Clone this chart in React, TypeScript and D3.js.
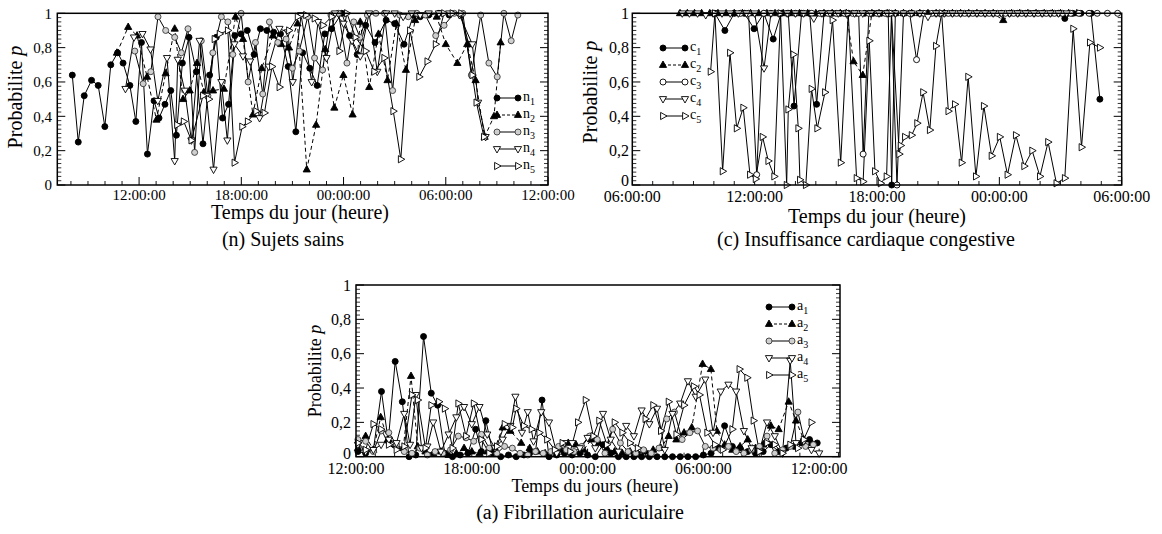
import React from 'react';
import * as d3 from 'd3';

type Pt = [number, number];

// ---------- Panel (n): Sujets sains  [hour, probability] ----------
const n1: Pt[] = [[8.08,.64],[8.43,.25],[8.78,.52],[9.21,.61],[9.6,.58],[9.99,.34],[10.34,.70],[10.74,.77],[11.06,.71],[11.46,.58],[11.81,.37],[12.14,.83],[12.49,.18],[12.88,.49],[13.17,.39],[13.52,.47],[13.86,.55],[14.19,.29],[14.54,.71],[14.93,.86],[15.36,.66],[15.75,.24],[16.14,.64],[16.53,.86],[16.9,.39],[17.25,.47],[17.62,.87],[17.98,.88],[18.35,.90],[18.75,.76],[19.12,.91],[19.5,.90],[19.9,.89],[20.3,.88],[20.75,.69],[21.2,.31],[21.6,.77],[22.02,.68],[22.45,.58],[22.9,.88],[23.3,.91],[23.9,1.0],[24.35,.87],[24.8,.76],[25.3,.93],[25.85,.83],[26.5,.96],[27.0,.94],[27.55,.82],[28.1,.99],[28.5,.98],[29.0,.99],[29.6,1.0],[30.2,.99],[30.9,.99],[31.35,.82]];
const n2: Pt[] = [[10.7,.77],[11.36,.92],[11.88,.87],[12.47,.63],[13.02,.38],[13.56,.65],[14.09,.91],[14.58,.50],[14.97,.55],[15.4,.71],[15.8,.54],[16.34,.55],[16.98,.56],[17.66,.98],[18.1,.85],[18.68,.41],[19.2,.68],[19.85,.87],[20.34,.82],[20.8,.80],[21.3,.94],[21.84,.09],[22.39,.35],[22.93,.79],[23.46,.45],[23.99,.64],[24.53,.41],[24.98,.95],[25.51,.57],[26.05,.88],[26.58,.61],[27.1,.94],[27.66,.67],[28.2,.96],[28.8,.99],[29.47,.98],[30.0,.82],[30.68,.71],[31.26,.82],[31.75,.61],[32.28,.28],[32.83,.40],[33.22,.83]];
const n3: Pt[] = [[11.75,.78],[12.24,.59],[12.69,.66],[13.11,.98],[13.56,.90],[14.09,.86],[14.48,.77],[14.87,.91],[15.26,.19],[15.65,.84],[16.04,.52],[16.33,.77],[16.83,.98],[17.21,.95],[17.5,.76],[17.99,1.0],[18.4,.60],[18.83,.83],[19.26,.53],[19.65,.95],[20.14,.83],[20.63,.85],[21.0,.68],[21.4,.78],[21.9,.98],[22.3,.74],[22.77,.67],[23.26,.99],[23.7,1.0],[24.2,.71],[24.6,.95],[24.96,.86],[25.4,.99],[25.9,1.0],[26.4,1.0],[26.88,.55],[27.3,.99],[27.8,.98],[28.3,1.0],[28.8,.99],[29.41,.87],[29.9,.93],[30.5,1.0],[31.0,1.0],[31.5,.64],[32.05,.99],[32.53,.71],[33.02,.63],[33.41,1.0],[33.84,.84],[34.23,.99]];
const n4: Pt[] = [[11.2,.56],[11.7,.86],[12.2,.88],[12.67,.79],[13.1,.49],[13.64,.74],[14.09,.14],[14.27,.73],[14.68,.55],[15.07,.26],[15.55,.84],[15.95,.52],[16.37,.09],[16.83,.60],[17.18,.26],[17.6,.82],[18.1,.75],[18.52,.72],[19.07,.39],[19.6,.69],[20.24,.91],[20.73,.89],[21.02,.60],[21.51,.99],[22.13,.60],[22.5,.95],[23.0,.74],[23.5,1.0],[24.0,.94],[24.5,.84],[24.98,.75],[25.5,1.0],[25.98,.66],[26.5,1.0],[27.0,1.0],[27.5,.98],[28.0,1.0],[28.5,.99],[29.0,1.0],[29.6,1.0],[30.2,1.0],[30.8,.99],[31.56,.82],[31.9,.48],[32.34,.28]];
const n5: Pt[] = [[14.23,.35],[14.62,.37],[15.07,.26],[15.75,.52],[16.1,.50],[16.43,.85],[16.73,.88],[17.21,.90],[17.6,.13],[18.05,.34],[18.38,.37],[18.87,.43],[19.36,.42],[19.8,.69],[20.24,.57],[20.8,.90],[21.31,.98],[21.8,.99],[22.3,.97],[22.8,.93],[23.3,.98],[23.75,.78],[24.2,1.0],[24.7,.86],[25.3,.78],[25.8,.66],[26.39,.74],[26.92,.43],[27.36,.15],[27.9,.90],[28.44,.63],[28.92,.72],[29.41,.82],[29.9,1.0],[30.4,1.0],[30.9,1.0],[31.56,.64],[31.8,.48],[32.24,.28]];

// ---------- Panel (c): Insuffisance cardiaque congestive ----------
const c1: Pt[] = [[10.05,1],[10.54,.90],[11.0,1],[11.5,1],[11.97,.91],[12.45,1],[12.91,.85],[13.3,1],[13.65,1],[13.93,.46],[14.3,1],[14.7,1],[15.04,.47],[15.4,1],[15.8,1],[16.2,1],[16.6,1],[17.0,1],[17.4,1],[17.8,1],[18.2,1],[18.55,1],[18.72,0],[18.9,1],[19.3,1],[19.7,1],[20.1,1],[20.5,1],[20.9,1],[21.3,1],[21.7,1],[22.1,1],[22.5,1],[22.9,1],[23.3,1],[23.7,1],[24.1,1],[24.5,1],[24.9,1],[25.3,1],[25.7,1],[26.1,1],[26.5,1],[26.9,1],[27.21,.97],[27.6,1],[28.0,1],[28.5,1],[28.93,.50]];
const c2: Pt[] = [[8.34,1],[8.7,1],[9.05,1],[9.4,1],[9.8,1],[10.2,1],[10.6,1],[11.0,1],[11.4,1],[11.8,1],[12.2,1],[12.6,1],[13.0,1],[13.4,1],[13.8,1],[14.2,1],[14.6,1],[15.0,1],[15.4,1],[15.8,1],[16.2,1],[16.5,1],[16.85,.72],[17.3,.64],[17.75,1],[18.1,1],[18.5,1],[18.9,1],[19.3,1],[19.7,1],[20.1,1],[20.5,1],[20.9,1],[21.3,1],[21.7,1],[22.1,1],[22.5,1],[22.9,1],[23.3,1],[23.7,1],[24.19,.96],[24.6,1],[25.0,1],[25.4,1],[25.8,1],[26.2,1],[26.6,1],[27.0,1],[27.4,1],[27.8,1]];
const c3: Pt[] = [[11.3,1],[11.7,1],[12.1,.06],[12.45,1],[12.8,1],[13.2,1],[13.6,1],[14.0,1],[14.4,1],[14.8,1],[15.2,1],[15.6,1],[16.0,1],[16.4,1],[16.8,1],[17.1,1],[17.32,.18],[17.6,1],[18.0,1],[18.4,1],[18.7,1],[18.98,0],[19.3,1],[19.6,1],[19.94,.73],[20.3,1],[20.7,1],[21.1,1],[21.5,1],[21.9,1],[22.3,1],[22.7,1],[23.1,1],[23.5,1],[23.9,1],[24.3,1],[24.7,1],[25.1,1],[25.5,1],[25.9,1],[26.3,1],[26.7,1],[27.1,1],[27.5,1],[27.9,1],[28.4,1],[28.8,1],[29.3,1],[29.8,1]];
const c4: Pt[] = [[8.45,1],[8.8,1],[9.2,1],[9.6,.99],[10.0,1],[10.4,1],[10.8,1],[11.2,1],[11.6,1],[12.0,1],[12.46,.68],[12.8,1],[13.2,1],[13.6,1],[14.0,1],[14.4,1],[14.9,.97],[15.3,1],[15.7,1],[16.1,1],[16.5,1],[16.9,1],[17.3,1],[17.7,1],[18.1,1],[18.5,1],[18.9,1],[19.3,1],[19.7,1],[20.1,1],[20.5,.98],[20.9,1],[21.3,1],[21.7,1],[22.1,1],[22.5,1],[22.9,1],[23.3,1],[23.7,1],[24.1,1],[24.5,1],[24.9,1],[25.3,1],[25.7,1],[26.1,1],[26.5,1],[26.9,1],[27.3,1]];
const c5: Pt[] = [[9.84,.66],[10.05,1.0],[10.43,.08],[10.79,.77],[11.12,.33],[11.44,.45],[11.77,.06],[12.05,.035],[12.39,.28],[12.67,.14],[12.96,.05],[13.27,1.0],[13.57,0],[13.65,.44],[13.9,.76],[14.14,.33],[14.22,.03],[14.51,0],[14.79,.56],[15.07,.33],[15.45,.54],[15.82,.96],[16.22,.13],[16.59,1.0],[17.0,.04],[17.32,.02],[17.62,.84],[17.9,.08],[18.18,.01],[18.47,.05],[18.71,1.0],[19.09,.18],[19.16,.23],[19.37,.28],[19.7,.29],[19.97,.36],[20.26,.54],[20.59,.32],[20.89,.81],[21.17,1.0],[21.5,.43],[21.82,.47],[22.15,.13],[22.47,.63],[22.85,.05],[23.24,.46],[23.62,.17],[24.02,.28],[24.4,.06],[24.81,.29],[25.22,.11],[25.61,.20],[25.99,.05],[26.39,.25],[26.8,.01],[27.21,.04],[27.62,.91],[28.03,.22],[28.44,.83],[28.93,.80]];

// ---------- Panel (a): Fibrillation auriculaire ----------
const a1: Pt[] = [[12.1,.03],[12.5,.02],[12.9,.04],[13.32,.38],[13.67,.09],[14.03,.555],[14.4,.32],[14.75,0],[15.1,.01],[15.5,.70],[15.9,.37],[16.23,.30],[16.6,.02],[17.0,0],[17.4,.01],[17.8,.02],[18.2,.16],[18.5,.03],[18.73,.21],[19.1,.02],[19.5,0],[19.9,.01],[20.3,0],[20.7,.01],[21.0,.02],[21.3,.03],[21.64,.33],[22.0,0],[22.4,.01],[22.8,.02],[23.2,.01],[23.6,.02],[24.0,.01],[24.4,0],[24.8,.07],[25.2,.02],[25.6,0],[26.0,0],[26.4,0],[26.8,0],[27.2,0],[27.6,0],[28.0,0],[28.4,0],[28.8,0],[29.2,0],[29.6,0],[30.0,.01],[30.4,.02],[30.8,.05],[31.1,.18],[31.5,.06],[31.9,.05],[32.3,.03],[32.7,.02],[33.1,.03],[33.5,.07],[33.9,.03],[34.3,.05],[34.7,.06],[35.1,.08],[35.5,.10],[35.9,.08]];
const a2: Pt[] = [[12.1,.05],[12.5,.12],[12.9,.04],[13.28,.23],[13.65,.10],[14.05,.07],[14.45,.05],[14.85,.47],[15.2,.06],[15.6,.03],[16.0,.02],[16.4,.03],[16.8,.01],[17.2,.02],[17.6,.05],[18.0,.03],[18.4,.02],[18.8,.03],[19.2,.05],[19.6,.17],[20.0,.15],[20.56,.08],[21.0,.05],[21.4,.03],[21.8,.02],[22.2,.03],[22.6,.04],[23.0,.08],[23.4,.07],[23.8,.04],[24.2,.10],[24.6,.08],[25.0,.05],[25.4,.03],[25.8,.02],[26.2,.03],[26.6,.02],[27.0,.03],[27.4,.04],[27.8,.05],[28.2,.12],[28.6,.10],[29.0,.14],[29.4,.17],[29.96,.54],[30.39,.51],[30.7,.15],[31.1,.07],[31.5,.04],[31.9,.06],[32.3,.10],[32.7,.05],[33.1,.07],[33.5,.18],[33.9,.16],[34.42,.32],[34.8,.21],[35.2,.10],[35.6,.08]];
const a3: Pt[] = [[12.1,.10],[12.5,.09],[12.9,.03],[13.3,.15],[13.7,.14],[14.1,.07],[14.5,.03],[14.9,.02],[15.3,.05],[15.7,.01],[16.1,.03],[16.5,.02],[16.9,.04],[17.3,.12],[17.7,.11],[18.1,.09],[18.5,.13],[18.9,.05],[19.3,.02],[19.7,.06],[20.1,.05],[20.5,.02],[20.9,.01],[21.3,.03],[21.7,.02],[22.1,.03],[22.5,.06],[22.9,.04],[23.3,.03],[23.7,.06],[24.1,.12],[24.5,.10],[24.9,.02],[25.3,.16],[25.7,.08],[26.1,.03],[26.5,.02],[26.9,.04],[27.3,.02],[27.7,.05],[28.1,.22],[28.5,.26],[28.9,.10],[29.3,.14],[29.7,.15],[30.1,.06],[30.5,.05],[30.9,.04],[31.3,.06],[31.7,.03],[32.1,.02],[32.5,.04],[32.9,.06],[33.3,.12],[33.7,.02],[34.1,.04],[34.5,.06],[34.9,.26],[35.3,.06],[35.7,.07]];
const a4: Pt[] = [[12.1,.07],[12.5,.03],[12.9,.04],[13.3,.07],[13.7,.10],[14.1,.08],[14.5,.25],[14.8,.07],[15.1,.36],[15.4,.05],[15.7,.06],[16.0,.20],[16.4,.03],[16.8,.13],[17.2,.23],[17.6,.29],[18.0,.19],[18.4,.29],[18.8,.13],[19.2,.05],[19.6,.10],[20.0,.18],[20.26,.35],[20.6,.14],[20.9,.26],[21.2,.09],[21.6,.26],[22.0,.20],[22.4,.02],[22.8,.08],[23.2,.08],[23.6,.05],[24.0,.11],[24.4,.05],[24.8,.25],[25.2,.10],[25.6,.03],[26.0,.18],[26.4,.12],[26.8,.27],[27.2,.19],[27.6,.28],[28.0,.04],[28.4,.25],[28.8,.31],[29.2,.44],[29.6,.35],[30.1,.45],[30.5,.14],[30.9,.38],[31.3,.42],[31.7,.38],[32.1,.15],[32.5,.05],[32.9,.03],[33.3,.20],[33.7,.12],[34.1,.02],[34.5,.56],[34.8,.08],[35.2,.09],[35.6,.04],[36.0,.02]];
const a5: Pt[] = [[12.1,.08],[12.5,.04],[12.9,.19],[13.3,.16],[13.7,.07],[14.1,.04],[14.5,.06],[14.9,.36],[15.2,.33],[15.6,.05],[15.9,.30],[16.3,.32],[16.6,.28],[17.0,.05],[17.3,.31],[17.7,.12],[18.1,.31],[18.5,.10],[18.9,.02],[19.3,.06],[19.7,.19],[20.1,.17],[20.3,.28],[20.7,.18],[21.1,.16],[21.5,.14],[21.9,.10],[22.3,.04],[22.7,.08],[23.1,.03],[23.5,.20],[23.9,.33],[24.3,.12],[24.6,.21],[25.0,.07],[25.4,.20],[25.8,.14],[26.2,.08],[26.6,.05],[27.0,.22],[27.4,.30],[27.8,.15],[28.2,.32],[28.6,.13],[29.0,.30],[29.5,.41],[29.8,.36],[30.2,.14],[30.6,.07],[31.0,.04],[31.5,.16],[31.87,.51],[32.27,.46],[32.6,.21],[32.9,.03],[33.3,.08],[33.7,.07],[34.1,.02],[34.5,.07],[34.9,.05],[35.2,.10],[35.6,.20]];

const yTicks = [0, 0.2, 0.4, 0.6, 0.8, 1];
const yTickLabels = ['0', '0,2', '0,4', '0,6', '0,8', '1'];
const ticksN = [12, 18, 24, 30, 36];
const ticksC = [6, 12, 18, 24, 30];
const ticksA = [12, 18, 24, 30, 36];

const fmtHour = (h: number) => `${String(((h % 24) + 24) % 24).padStart(2, '0')}:00:00`;

type Kind = 'circle' | 'up' | 'down' | 'right';
const KINDS: Kind[] = ['circle', 'up', 'circle', 'down', 'right'];

function Marker({ kind, x, y, fill, stroke }: { kind: Kind; x: number; y: number; fill: string; stroke: string }) {
  if (kind === 'circle') return <circle cx={x} cy={y} r={3} fill={fill} stroke={stroke} strokeWidth={0.9} />;
  let d = '';
  if (kind === 'up') d = `M${x},${y - 4}L${x + 3.6},${y + 2.4}L${x - 3.6},${y + 2.4}Z`;
  if (kind === 'down') d = `M${x},${y + 4}L${x + 3.6},${y - 2.4}L${x - 3.6},${y - 2.4}Z`;
  if (kind === 'right') d = `M${x + 4},${y}L${x - 2.4},${y - 3.6}L${x - 2.4},${y + 3.6}Z`;
  return <path d={d} fill={fill} stroke={stroke} strokeWidth={0.9} />;
}

interface PanelCfg {
  left: number; right: number; top: number; bottom: number;
  domain: [number, number]; ticks: number[];
  series: Pt[][]; name: string; gray: string;
  tickFont: number; titleFont: number;
  xTitle: string; xTitleX: number; xTitleY: number;
  yTitleX: number; yTitleY: number;
  tickLabelY: number; yLabelX: number; zeroLift: number;
  caption: string; capX: number; capY: number;
  leg: { x1: number; x2: number; tx: number; y0: number; dy: number };
}

function Panel({ c }: { c: PanelCfg }) {
  const x = d3.scaleLinear().domain(c.domain).range([c.left, c.right]);
  const y = d3.scaleLinear().domain([0, 1]).range([c.bottom, c.top]);
  const line = d3.line<Pt>().x(d => x(d[0])).y(d => y(d[1]));
  const minorX = d3.range(Math.ceil(c.domain[0]), Math.floor(c.domain[1]) + 1).filter(h => !c.ticks.includes(h));
  const minorY = d3.range(0, 1.0001, 0.025).filter(v => Math.abs(v * 5 - Math.round(v * 5)) > 1e-6);
  const fills = ['#000', '#000', c.gray, '#fff', '#fff'];
  const strokes = ['#000', '#000', c.gray === '#fff' ? '#000' : '#3a3a3a', '#000', '#000'];
  return (
    <g>
      {c.ticks.map(t => (
        <line key={'xt' + t} x1={x(t)} x2={x(t)} y1={c.bottom} y2={c.bottom - 8} stroke="#000" strokeWidth={1} />
      ))}
      {minorX.map(t => (
        <line key={'xm' + t} x1={x(t)} x2={x(t)} y1={c.bottom} y2={c.bottom - 4} stroke="#000" strokeWidth={0.9} />
      ))}
      {yTicks.map(t => (
        <g key={'yt' + t}>
          <line x1={c.left} x2={c.left + 8} y1={y(t)} y2={y(t)} stroke="#000" strokeWidth={1} />
          <line x1={c.right} x2={c.right - 8} y1={y(t)} y2={y(t)} stroke="#000" strokeWidth={1} />
        </g>
      ))}
      {minorY.map(t => (
        <g key={'ym' + t}>
          <line x1={c.left} x2={c.left + 4} y1={y(t)} y2={y(t)} stroke="#000" strokeWidth={0.8} />
          <line x1={c.right} x2={c.right - 4} y1={y(t)} y2={y(t)} stroke="#000" strokeWidth={0.8} />
        </g>
      ))}
      {c.series.map((s, i) => (
        <path key={'l' + i} d={line(s) || ''} fill="none" stroke="#000" strokeWidth={1}
          strokeDasharray={i === 1 ? '4,3' : undefined} />
      ))}
      {c.series.map((s, i) => (
        <g key={'m' + i}>
          {s.map((p, j) => (
            <Marker key={j} kind={KINDS[i]} x={x(p[0])} y={y(p[1])} fill={fills[i]} stroke={strokes[i]} />
          ))}
        </g>
      ))}
      <rect x={c.left} y={c.top} width={c.right - c.left} height={c.bottom - c.top} fill="none" stroke="#000" strokeWidth={1.5} />
      {c.ticks.map(t => (
        <text key={'xl' + t} x={x(t)} y={c.tickLabelY} textAnchor="middle" fontSize={c.tickFont}>{fmtHour(t)}</text>
      ))}
      {yTicks.map((t, i) => (
        <text key={'yl' + t} x={c.yLabelX} y={y(t) + c.tickFont * 0.35 - (t === 0 ? c.zeroLift : 0)}
          textAnchor="end" fontSize={c.tickFont}>{yTickLabels[i]}</text>
      ))}
      <text x={c.xTitleX} y={c.xTitleY} textAnchor="middle" fontSize={c.titleFont}>{c.xTitle}</text>
      <text transform={`translate(${c.yTitleX},${c.yTitleY}) rotate(-90)`} textAnchor="middle" fontSize={c.titleFont}>
        Probabilite <tspan fontStyle="italic">p</tspan>
      </text>
      {KINDS.map((k, i) => {
        const ly = c.leg.y0 + i * c.leg.dy;
        return (
          <g key={'lg' + i}>
            <line x1={c.leg.x1} x2={c.leg.x2} y1={ly} y2={ly} stroke="#000" strokeWidth={1} strokeDasharray={i === 1 ? '3,2' : undefined} />
            <Marker kind={k} x={c.leg.x1} y={ly} fill={fills[i]} stroke={strokes[i]} />
            <Marker kind={k} x={c.leg.x2} y={ly} fill={fills[i]} stroke={strokes[i]} />
            <text x={c.leg.tx} y={ly + 3} fontSize={14}>
              {c.name}<tspan fontSize={10} dy={4}>{i + 1}</tspan>
            </text>
          </g>
        );
      })}
      <text x={c.capX} y={c.capY} textAnchor="middle" fontSize={20}>{c.caption}</text>
    </g>
  );
}

const panels: PanelCfg[] = [
  {
    left: 57.3, right: 548, top: 13.3, bottom: 185, domain: [7.2, 36], ticks: ticksN,
    series: [n1, n2, n3, n4, n5], name: 'n', gray: '#cfcfcf',
    tickFont: 15, titleFont: 20,
    xTitle: 'Temps du jour (heure)', xTitleX: 300, xTitleY: 219,
    yTitleX: 22, yTitleY: 97, tickLabelY: 200, yLabelX: 52, zeroLift: 0,
    caption: '(n) Sujets sains', capX: 283, capY: 246,
    leg: { x1: 497, x2: 518, tx: 523, y0: 98, dy: 17 },
  },
  {
    left: 632.3, right: 1121.7, top: 13.3, bottom: 185, domain: [6, 30], ticks: ticksC,
    series: [c1, c2, c3, c4, c5], name: 'c', gray: '#fff',
    tickFont: 16, titleFont: 20,
    xTitle: 'Temps du jour (heure)', xTitleX: 877, xTitleY: 223,
    yTitleX: 597, yTitleY: 92, tickLabelY: 202, yLabelX: 629, zeroLift: 5,
    caption: '(c) Insuffisance cardiaque congestive', capX: 866, capY: 246,
    leg: { x1: 663, x2: 685, tx: 690, y0: 48, dy: 17 },
  },
  {
    left: 356, right: 840, top: 285, bottom: 456.7, domain: [12, 37.08], ticks: ticksA,
    series: [a1, a2, a3, a4, a5], name: 'a', gray: '#cfcfcf',
    tickFont: 16, titleFont: 18,
    xTitle: 'Temps du jours (heure)', xTitleX: 595, xTitleY: 492,
    yTitleX: 321, yTitleY: 371, tickLabelY: 474, yLabelX: 351, zeroLift: 3,
    caption: '(a) Fibrillation auriculaire', capX: 580, capY: 519,
    leg: { x1: 769, x2: 792, tx: 797, y0: 307, dy: 17 },
  },
];

export default function App() {
  return (
    <svg width={1162} height={534} style={{ position: 'absolute', left: 0, top: 0, background: '#fff' }}
      fontFamily="'Liberation Serif', 'Times New Roman', serif">
      <rect width={1162} height={534} fill="#fff" />
      {panels.map((p, i) => <Panel key={i} c={p} />)}
    </svg>
  );
}
